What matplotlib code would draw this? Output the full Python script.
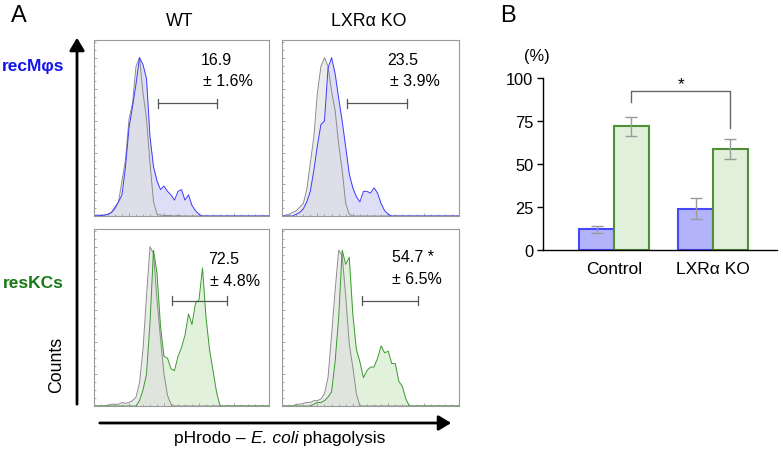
import numpy as np
import matplotlib
matplotlib.use("Agg")
import matplotlib.pyplot as plt
from matplotlib.ticker import MultipleLocator

plt.rcParams['font.family'] = ['Liberation Sans', 'DejaVu Sans']

# ---------------- data ----------------
# flow histograms: counts (% of mode) on a fluorescence grid 0..100 step 2
wt_rec_iso = [0, 0, 0.5, 0.5, 1, 2, 4, 8, 20, 32, 55, 64, 85, 90, 70, 55, 30, 8, 1, 0.5,
              0.3, 0.3, 0.2, 0, 0.5] + [0] * 26
wt_rec = [0.3, 0.5, 0.3, 0.5, 1, 2, 5, 8, 12, 28, 50, 62, 75, 90, 86, 78, 45, 28, 20, 15,
          17, 14, 12, 9, 14, 15, 9, 12, 6, 3, 1] + [0] * 20
ko_rec_iso = [0, 0.5, 1, 2, 3, 5, 7, 15, 30, 45, 70, 85, 90, 85, 71, 60, 41, 26, 7, 1,
              0] + [0] * 30
ko_rec = [0, 0, 0, 0, 1, 2, 4, 8, 14, 26, 40, 52, 54, 84, 90, 81, 67, 54, 39, 24,
          16, 11, 8, 14, 14, 13, 16, 13, 7, 3, 1] + [0] * 20
wt_res_iso = [0, 0, 0, 0, 0.5, 1, 1, 1, 2, 1.5, 2, 3, 5, 13, 32, 62, 90, 86, 60, 38,
              18, 6, 1, 0] + [0] * 27
wt_res = [0] * 12 + [0, 3, 9, 18, 47, 88, 75, 45, 28, 27, 21, 20, 28, 33, 40, 52, 46, 58,
                     60, 78, 50, 32, 20, 8, 0] + [0] * 14
ko_res_iso = [0, 0, 0, 0, 1, 1, 1.5, 2, 2, 3, 3, 4, 7, 16, 40, 65, 88, 85, 62, 35,
              22, 7, 0] + [0] * 28
ko_res = [0] * 9 + [1, 2, 2, 3, 5, 8, 25, 50, 88, 80, 84, 52, 32, 25, 16, 20, 22, 22, 27,
                    34, 30, 31, 24, 24, 14, 11, 4, 0] + [0] * 14

gate_pct = ["16.9", "23.5", "72.5", "54.7 *"]
gate_sd = ["± 1.6%", "± 3.9%", "± 4.8%", "± 6.5%"]

# bar chart
groups = ["Control", "LXRα KO"]
rec_mean = [12, 24]
rec_err = [2.2, 6]
res_mean = [72, 58.5]
res_err = [5.5, 5.8]
yticks_b = [0, 25, 50, 75, 100]

# ---------------- figure ----------------
W, H = 783, 460
fig = plt.figure(figsize=(W / 100, H / 100), dpi=100)


def ax_px(l, t, r, b):
    return fig.add_axes([l / W, 1 - b / H, (r - l) / W, (b - t) / H])


x = np.arange(0, 101, 2)
blue_line, blue_fill = '#3b3bff', '#d9d9f6'
green_line, green_fill = '#3a9a2e', '#dcefd6'
gray_line, gray_fill = '#8c8c8c', '#dedede'

panels = [
    ((94, 41, 269, 217), wt_rec_iso, wt_rec, blue_line, blue_fill, (36.4, 70.5, 64), (61, 89, 62.5, 77)),
    ((282, 41, 459, 217), ko_rec_iso, ko_rec, blue_line, blue_fill, (36.7, 70.5, 64), (59.6, 89, 61, 77)),
    ((94, 230, 269, 407), wt_res_iso, wt_res, green_line, green_fill, (44.5, 75.8, 59.5), (65, 83.5, 66, 71)),
    ((282, 230, 459, 407), ko_res_iso, ko_res, green_line, green_fill, (45, 76.6, 59.5), (62, 84.5, 62, 72)),
]

for i, (box, iso, smp, lc, fc, gate, tpos) in enumerate(panels):
    ax = ax_px(*box)
    ax.fill_between(x, 0, smp, color=fc, alpha=0.85, lw=0)
    ax.fill_between(x, 0, iso, color=gray_fill, alpha=0.6, lw=0)
    ax.plot(x, iso, color=gray_line, lw=0.7)
    ax.plot(x, smp, color=lc, lw=0.7)
    ax.set_xlim(0, 100)
    ax.set_ylim(0, 100)
    for s in ax.spines.values():
        s.set_color('#999999')
        s.set_linewidth(0.8)
    ax.xaxis.set_major_locator(MultipleLocator(20))
    ax.xaxis.set_minor_locator(MultipleLocator(4))
    ax.yaxis.set_major_locator(MultipleLocator(18))
    ax.yaxis.set_minor_locator(MultipleLocator(4.5))
    ax.tick_params(which='both', direction='in', colors='#999999', labelleft=False,
                   labelbottom=False, length=2.5, width=0.6)
    ax.tick_params(which='minor', length=1.5)
    g0, g1, gy = gate
    ax.plot([g0, g1], [gy, gy], color='#555555', lw=0.9)
    ax.plot([g0, g0], [gy - 2.5, gy + 2.5], color='#555555', lw=0.9)
    ax.plot([g1, g1], [gy - 2.5, gy + 2.5], color='#555555', lw=0.9)
    ax.text(tpos[0], tpos[1], gate_pct[i], fontsize=11.5, ha='left', va='center')
    ax.text(tpos[2], tpos[3], gate_sd[i], fontsize=11.5, ha='left', va='center')


def ftxt(px, py, s, **kw):
    return fig.text(px / W, 1 - py / H, s, **kw)


ftxt(19, 16, "A", fontsize=17, ha='center', va='center')
ftxt(180, 21, "WT", fontsize=12.8, ha='center', va='center')
ftxt(369, 21, "LXRα KO", fontsize=12.8, ha='center', va='center')
ftxt(33, 67, "recMφs", fontsize=12.5, ha='center', va='center', color='#1515ee', fontweight='bold')
ftxt(33, 283, "resKCs", fontsize=12.5, ha='center', va='center', color='#177a17', fontweight='bold')
ftxt(57, 365, "Counts", fontsize=12.8, ha='center', va='center', rotation=90)

# x-axis label with italic species name, composed from three pieces
parts = [("pHrodo – ", 'normal'), ("E. coli", 'italic'), (" phagolysis", 'normal')]
renderer = fig.canvas.get_renderer()
objs = []
total = 0
for s, st in parts:
    t = ftxt(0, 439, s, fontsize=12.5, ha='left', va='center', style=st)
    w = t.get_window_extent(renderer).width
    objs.append((t, w))
    total += w
cur = 280 - total / 2
for t, w in objs:
    t.set_x(cur / W)
    cur += w

# arrows
fig.patches.append(matplotlib.patches.FancyArrowPatch(
    (77 / W, 1 - 408 / H), (77 / W, 1 - 36 / H), transform=fig.transFigure,
    arrowstyle='-|>,head_length=5,head_width=3', lw=2, color='black', mutation_scale=1.5))
fig.patches.append(matplotlib.patches.FancyArrowPatch(
    (97 / W, 1 - 424 / H), (454 / W, 1 - 424 / H), transform=fig.transFigure,
    arrowstyle='-|>,head_length=5,head_width=3', lw=2, color='black', mutation_scale=1.5))

# ---------------- panel B ----------------
ftxt(508, 16, "B", fontsize=17, ha='center', va='center')
axb = ax_px(543, 79, 777, 251)
pos = np.arange(len(groups))
bw = 0.35
axb.bar(pos - bw / 2, rec_mean, bw, color='#b3b3fa', edgecolor='#4747ff', lw=1.5)
axb.bar(pos + bw / 2, res_mean, bw, color='#e1f0da', edgecolor='#4f8f36', lw=1.5)
axb.errorbar(pos - bw / 2, rec_mean, yerr=rec_err, fmt='none', ecolor='#9a9a9a', elinewidth=1,
             capsize=4.5, capthick=1)
axb.errorbar(pos + bw / 2, res_mean, yerr=res_err, fmt='none', ecolor='#9a9a9a', elinewidth=1,
             capsize=4.5, capthick=1)
axb.set_xlim(-0.717, 1.646)
axb.set_ylim(0, 100)
axb.set_yticks(yticks_b)
axb.set_xticks(pos)
axb.set_xticklabels(groups)
axb.tick_params(axis='y', labelsize=11.8, length=4, width=1, pad=3)
axb.tick_params(axis='x', labelsize=12.5, length=0, pad=8)
axb.spines['top'].set_visible(False)
axb.spines['right'].set_visible(False)
axb.spines['left'].set_linewidth(1)
axb.spines['bottom'].set_linewidth(1)
# significance bracket
bx0, bx1 = pos[0] + bw / 2, pos[1] + bw / 2
axb.plot([bx0, bx0, bx1, bx1], [86, 92.5, 92.5, 71], color='#666666', lw=1, clip_on=False)
axb.text((bx0 + bx1) / 2, 96.5, "*", fontsize=12.5, ha='center', va='center')
axb.text(-0.78, 113, "(%)", fontsize=11.8, ha='center', va='center')

fig.savefig("out.png", dpi=100)
